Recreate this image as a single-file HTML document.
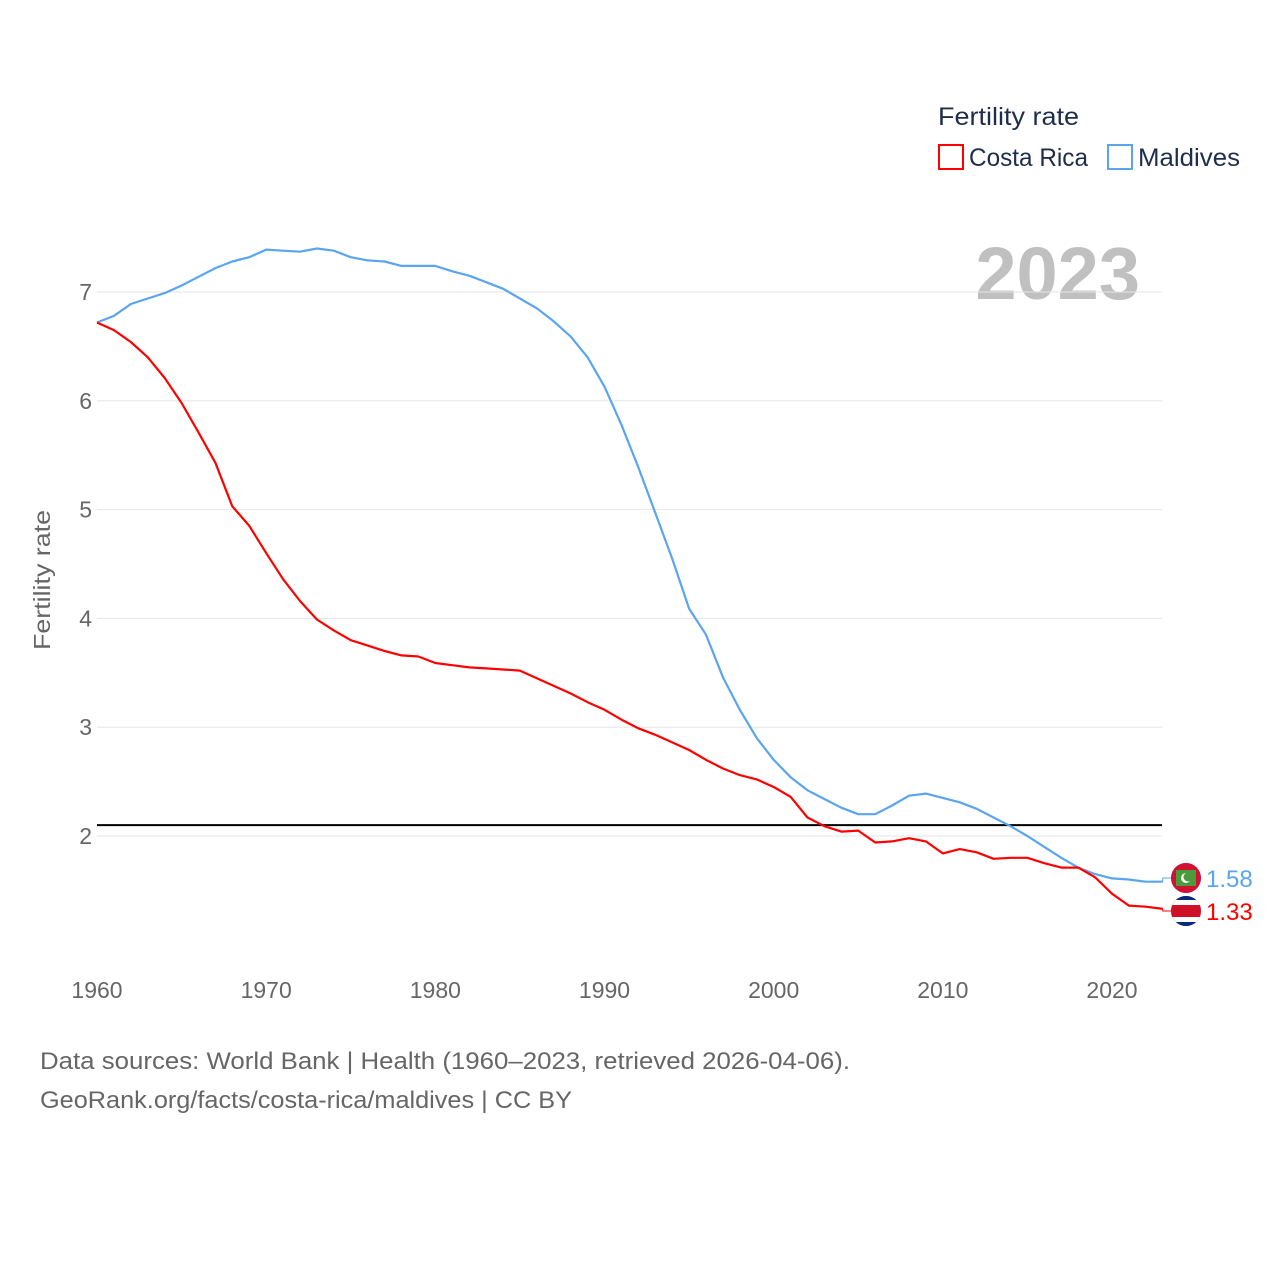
<!DOCTYPE html>
<html><head><meta charset="utf-8"><style>
body{margin:0;background:#fff;}
svg text{font-family:"Liberation Sans",sans-serif;}
</style></head><body>
<svg id="chart" width="1280" height="1280" xmlns="http://www.w3.org/2000/svg">
<defs><clipPath id="cc"><circle cx="1186" cy="911" r="15"/></clipPath><clipPath id="mc"><circle cx="1186" cy="878" r="15"/></clipPath></defs>
<text x="938" y="125" font-size="25" fill="#1d2d4a" textLength="141" lengthAdjust="spacingAndGlyphs">Fertility rate</text>
<g><rect x="939" y="145" width="24" height="24" fill="none" stroke="#ff0000" stroke-width="2"/><text x="969" y="166" font-size="25" fill="#1d2d4a" textLength="119" lengthAdjust="spacingAndGlyphs">Costa Rica</text></g>
<g><rect x="1108" y="145" width="24" height="24" fill="none" stroke="#5aa5ee" stroke-width="2"/><text x="1138" y="166" font-size="25" fill="#1d2d4a" textLength="102" lengthAdjust="spacingAndGlyphs">Maldives</text></g>
<text x="1140" y="299" font-size="74" font-weight="bold" fill="#c0c0c0" text-anchor="end">2023</text>
<g id="grid"></g><g id="lines"></g>
<text transform="translate(50,580) rotate(-90)" font-size="23" fill="#666" text-anchor="middle" textLength="140" lengthAdjust="spacingAndGlyphs">Fertility rate</text>
<text x="40" y="1069" font-size="24" fill="#666" textLength="810" lengthAdjust="spacingAndGlyphs">Data sources: World Bank | Health (1960–2023, retrieved 2026-04-06).</text>
<text x="40" y="1108" font-size="24" fill="#666" textLength="532" lengthAdjust="spacingAndGlyphs">GeoRank.org/facts/costa-rica/maldives | CC BY</text>
</svg>
<script>
const years=[];for(let y=1960;y<=2023;y++)years.push(y);
const costaRica=[6.72,6.65,6.54,6.40,6.21,5.98,5.71,5.43,5.03,4.85,4.60,4.36,4.16,3.99,3.89,3.80,3.75,3.70,3.66,3.65,3.59,3.57,3.55,3.54,3.53,3.52,3.45,3.38,3.31,3.23,3.16,3.07,2.99,2.93,2.86,2.79,2.70,2.62,2.56,2.52,2.45,2.36,2.17,2.09,2.04,2.05,1.94,1.95,1.98,1.95,1.84,1.88,1.85,1.79,1.80,1.80,1.75,1.71,1.71,1.62,1.47,1.36,1.35,1.33];
const maldives=[6.72,6.78,6.89,6.94,6.99,7.06,7.14,7.22,7.28,7.32,7.39,7.38,7.37,7.40,7.38,7.32,7.29,7.28,7.24,7.24,7.24,7.19,7.15,7.09,7.03,6.94,6.85,6.73,6.59,6.40,6.13,5.78,5.39,4.97,4.55,4.09,3.85,3.46,3.16,2.90,2.70,2.54,2.42,2.34,2.26,2.20,2.20,2.28,2.37,2.39,2.35,2.31,2.25,2.17,2.09,2.00,1.90,1.80,1.71,1.65,1.61,1.60,1.58,1.58];
const yTicks=[2,3,4,5,6,7];
const xTicks=[1960,1970,1980,1990,2000,2010,2020];
const refValue=2.1;
const X=y=>97+(y-1960)*(1015/60);
const Y=v=>292+(7-v)*108.8;
const NS='http://www.w3.org/2000/svg';
function mk(t,a,p){const e=document.createElementNS(NS,t);for(const k in a)e.setAttribute(k,a[k]);p.appendChild(e);return e;}
const grid=document.getElementById('grid'),lines=document.getElementById('lines');
yTicks.forEach(v=>{
 const l=mk('line',{x1:97,x2:1162,y1:Y(v),y2:Y(v),stroke:'#e6e6e6','stroke-width':1},grid);
 
 
 const t=mk('text',{x:92,y:Y(v)+8,'font-size':23,fill:'#666','text-anchor':'end'},grid);t.textContent=v;
 
 
});
xTicks.forEach(y=>{
 const t=mk('text',{x:X(y),y:998,'font-size':23,fill:'#666','text-anchor':'middle'},grid);t.textContent=y;
 
 
});
const ref=mk('line',{x1:97,x2:1162,y1:Y(refValue),y2:Y(refValue),stroke:'#000','stroke-width':2},lines);


function series(vals,color,name,ly){
 const d=vals.map((v,i)=>(i?'L':'M')+X(years[i]).toFixed(1)+','+Y(v).toFixed(1)).join('');
 const p=mk('path',{d:d,fill:'none',stroke:color,'stroke-width':2.2,'stroke-linejoin':'round'},lines);
 
 
 const last=vals[vals.length-1],lx=X(2023),y0=Y(last);
 mk('path',{d:`M${lx},${y0}L${lx},${ly}L1172,${ly}`,fill:'none',stroke:color,'stroke-width':1},lines);
 const c=mk('circle',{cx:1186,cy:ly,r:15,fill:color},lines);
 
 
 const t=mk('text',{x:1206,y:ly+9,'font-size':24,fill:color},lines);t.textContent=last.toFixed(2);
 
 
 return c;
}
series(maldives,'#5aa5ee','maldives',878);
series(costaRica,'#ff0000','costa-rica',911);
const mg=mk('g',{'clip-path':'url(#mc)'},lines);
mk('rect',{x:1170,y:862,width:32,height:32,fill:'#d21034'},mg);
mk('rect',{x:1176,y:870,width:20,height:16,fill:'#4a9b3a'},mg);
mk('circle',{cx:1186,cy:878,r:5,fill:'#fff'},mg);
mk('circle',{cx:1188,cy:877,r:4.5,fill:'#4a9b3a'},mg);
const g=mk('g',{'clip-path':'url(#cc)'},lines);
mk('rect',{x:1170,y:895,width:32,height:32,fill:'#002b7f'},g);
mk('rect',{x:1170,y:900,width:32,height:22,fill:'#fff'},g);
mk('rect',{x:1170,y:905,width:32,height:12,fill:'#ce1126'},g);
</script>
</body></html>
